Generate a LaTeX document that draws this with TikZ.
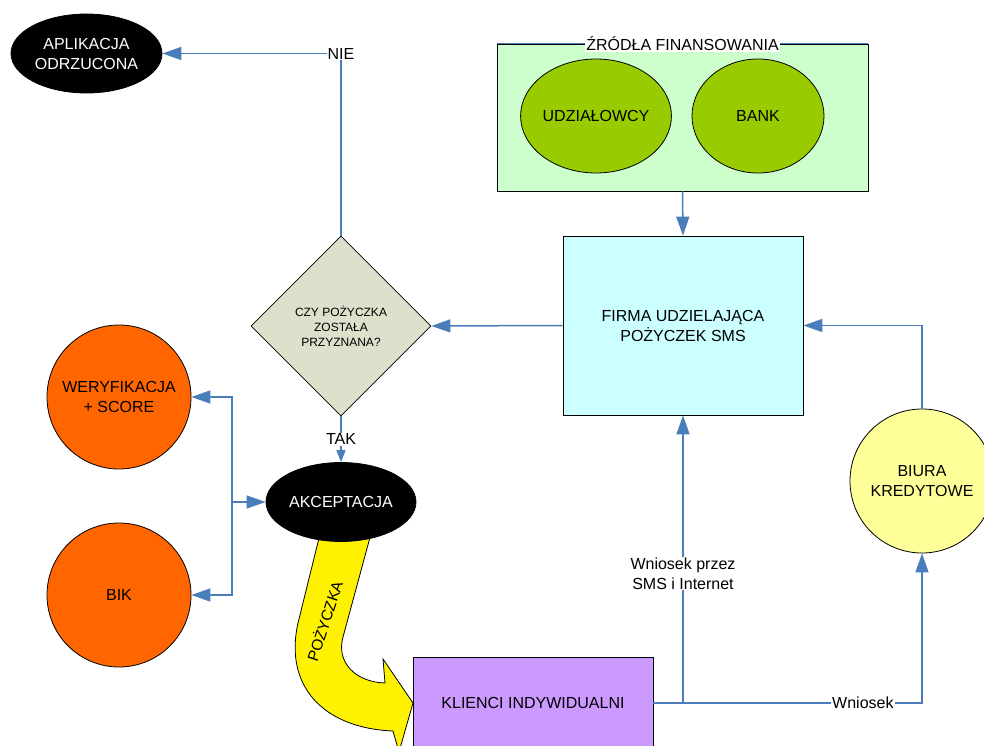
\documentclass[tikz,border=0pt]{standalone}
\usepackage{fontspec}
\setmainfont{Liberation Sans}
\usepackage{tikz}
\usetikzlibrary{arrows.meta}
\usetikzlibrary{shapes.geometric}

\definecolor{linia}{RGB}{74,126,187}
\definecolor{szary}{RGB}{221,224,203}
\definecolor{cyjan}{RGB}{204,255,255}
\definecolor{jasnozielony}{RGB}{204,255,204}
\definecolor{oliwka}{RGB}{153,204,0}
\definecolor{pomarancz}{RGB}{255,102,0}
\definecolor{jasnozolty}{RGB}{255,255,153}
\definecolor{fiolet}{RGB}{204,153,255}

\begin{document}
\begin{tikzpicture}
[x=1pt,y=-1pt,
 be/.style={draw=linia,line width=1.5pt,arrows={-Triangle[length=19pt,width=13pt]}},
 bes/.style={draw=linia,line width=1.5pt,arrows={-Triangle[length=12pt,width=9pt]}},
 ln/.style={draw=linia,line width=1.5pt},
 box/.style={draw=black,line width=0.8pt,inner sep=0pt,align=center,font=\fontsize{16}{20}\selectfont},
 owal/.style={box,ellipse,fill=black,text=white},
 kolo/.style={box,circle,minimum size=144pt},
 lbl/.style={fill=white,inner sep=1pt,align=center,font=\fontsize{16}{20}\selectfont}]
\useasboundingbox (0,0) rectangle (984,746);
\clip (0,0) rectangle (984,746);

\node[box,fill=jasnozielony,minimum width=371pt,minimum height=147pt] (zrodla) at (682.5,117.5) {};
\draw[ln] (zrodla.north west) -- (zrodla.north east);
\node[lbl] (tytul) at (zrodla.north) {ŹRÓDŁA FINANSOWANIA};
\node[box,ellipse,fill=oliwka,minimum width=132pt,minimum height=114pt] (udz) at (596,116) {UDZIAŁOWCY};
\node[box,ellipse,fill=oliwka,minimum width=132pt,minimum height=114pt] (bank) at (758,116) {BANK};

\node[box,fill=cyjan,minimum width=240pt,minimum height=179pt] (firma) at (683,325.5) {FIRMA UDZIELAJĄCA\\POŻYCZEK SMS};
\node[box,diamond,fill=szary,minimum width=180pt,minimum height=180pt,font=\fontsize{12}{15}\selectfont] (pyt) at (341,326) {CZY POŻYCZKA\\ZOSTAŁA\\PRZYZNANA?};
\node[owal,minimum width=151pt,minimum height=79pt] (odrz) at (86.5,53.5) {APLIKACJA\\ODRZUCONA};

\node[kolo,fill=pomarancz] (weryf) at (119,397) {WERYFIKACJA\\+ SCORE};
\node[kolo,fill=pomarancz] (bik) at (119,595) {BIK};
\node[kolo,fill=jasnozolty] (biura) at (922,481) {BIURA\\KREDYTOWE};
\node[box,fill=fiolet,minimum width=240pt,minimum height=92pt] (klienci) at (533,703) {KLIENCI INDYWIDUALNI};

\draw[black,line width=0.8pt,fill=yellow] (321,530) -- (298,623)
  .. controls (284,685) and (322,728) .. (393,731) -- (399,752) -- (413,703) -- (383,659) -- (385,683)
  .. controls (355,682) and (336,662) .. (343,637) -- (372,530) -- cycle;
\node[font=\fontsize{15.5}{18}\selectfont,rotate=72] (pozyczka) at (324,621) {POŻYCZKA};
\node[owal,minimum width=150pt,minimum height=79pt] (akc) at (341,502) {AKCEPTACJA};

\coordinate (rozg) at (232,502);
\draw[be] (zrodla.south) -- (firma.north);
\draw[be] (firma.west) -- (pyt.east);
\draw[be] (pyt.north) |- node[lbl] (nie) {NIE} (odrz.east);
\draw[bes] (pyt.south) -- node[lbl] (tak) {TAK} (akc.north);
\draw[be] (rozg) |- (weryf.east);
\draw[be] (rozg) |- (bik.east);
\draw[be] (rozg) -- (akc.west);
\draw[be] (klienci.east) -| node[lbl,pos=0.725] (sms) {Wniosek przez\\SMS i Internet} (firma.south);
\draw[be] (klienci.east) -| node[lbl,pos=0.39] (wniosek) {Wniosek} (biura.south);
\draw[be] (biura.north) |- (firma.east);

\end{tikzpicture}
\end{document}
